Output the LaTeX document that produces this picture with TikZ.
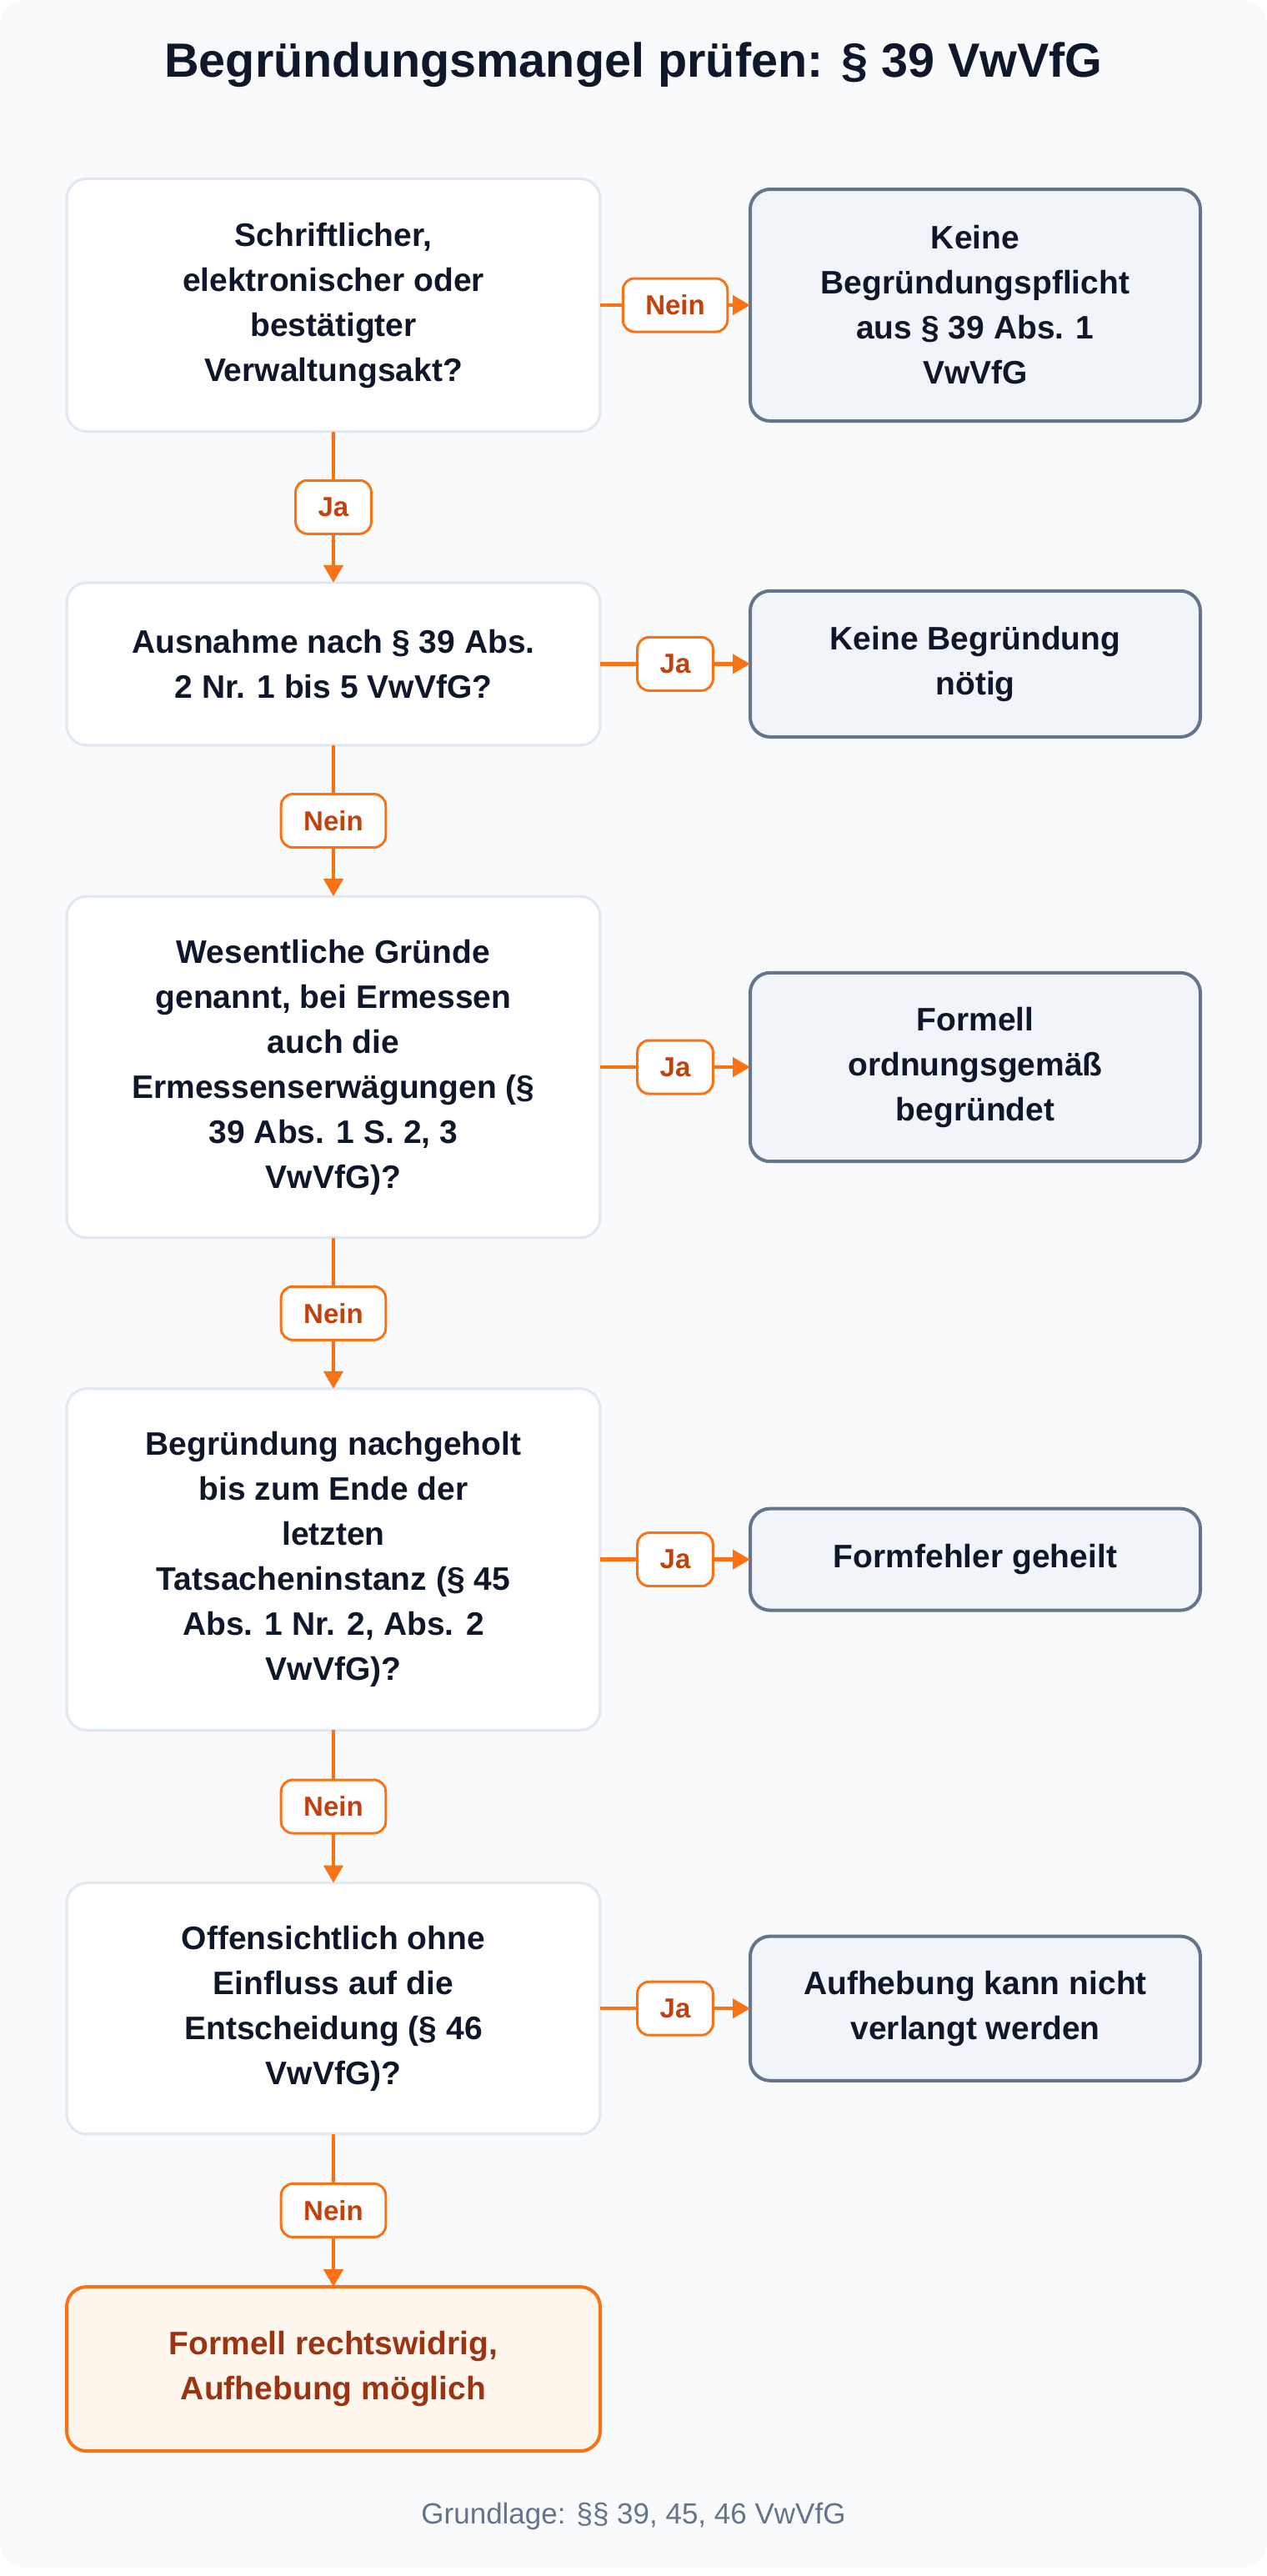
\documentclass[tikz,border=0pt]{standalone}
\usepackage{fontspec}
\setmainfont{Liberation Sans}
\usetikzlibrary{arrows.meta}

\definecolor{panel}{HTML}{F8FAFC}
\definecolor{ink}{HTML}{0F172A}
\definecolor{rand}{HTML}{E2E8F0}
\definecolor{schiefer}{HTML}{64748B}
\definecolor{schieferhell}{HTML}{F1F5F9}
\definecolor{orangeton}{HTML}{F97316}
\definecolor{rost}{HTML}{C2410C}
\definecolor{braunrot}{HTML}{9A3412}
\definecolor{creme}{HTML}{FFF7ED}

\newcommand{\titelschrift}{\fontsize{28.8}{32}\selectfont\bfseries}
\newcommand{\kastenschrift}{\fontsize{19.5}{27}\selectfont\bfseries}
\newcommand{\etikettschrift}{\fontsize{16.5}{20}\selectfont\bfseries}
\newcommand{\fussschrift}{\fontsize{17.5}{20}\selectfont}

\tikzset{
  frage/.style={draw=rand, line width=1.6pt, fill=white, rounded corners=12pt,
    minimum width=320pt, align=center, text=ink, font=\kastenschrift, outer sep=0pt},
  folge/.style={draw=schiefer, line width=2pt, fill=schieferhell, rounded corners=12pt,
    minimum width=270pt, align=center, text=ink, font=\kastenschrift, outer sep=0pt},
  ergebnis/.style={draw=orangeton, line width=2pt, fill=creme, rounded corners=12pt,
    minimum width=320pt, align=center, text=braunrot, font=\kastenschrift, outer sep=0pt},
  pfeil/.style={draw=orangeton, line width=2.2pt, -{Triangle[length=10.5pt,width=11.5pt]}},
  antwort/.style={draw=orangeton, line width=1.5pt, fill=white, rounded corners=7pt,
    minimum height=32pt, inner xsep=13.5pt, inner ysep=0pt, text=rost, font=\etikettschrift}
}

\begin{document}
\begin{tikzpicture}[x=1pt,y=-1pt]
    %background
    \useasboundingbox (0,0) rectangle (760,1545);
    \fill[white] (0,0) rectangle (760,1545);
    \fill[panel, rounded corners=14pt] (0,0) rectangle (760,1540);

    \node[font=\titelschrift, text=ink, anchor=base] (titel) at (380,46) {Begründungsmangel prüfen: § 39 VwVfG};

    %questions
    \node[frage, minimum height=151.6pt] (q1) at (200,183) {Schriftlicher,\\elektronischer oder\\bestätigter\\Verwaltungsakt?};
    \node[frage, minimum height=97.5pt] (q2) at (200,398.2) {Ausnahme nach § 39 Abs.\\2 Nr. 1 bis 5 VwVfG?};
    \node[frage, minimum height=204.8pt] (q3) at (200,640) {Wesentliche Gründe\\genannt, bei Ermessen\\auch die\\Ermessenserwägungen (§\\39 Abs. 1 S. 2, 3\\VwVfG)?};
    \node[frage, minimum height=204.8pt] (q4) at (200,935.3) {Begründung nachgeholt\\bis zum Ende der\\letzten\\Tatsacheninstanz (§ 45\\Abs. 1 Nr. 2, Abs. 2\\VwVfG)?};
    \node[frage, minimum height=150.6pt] (q5) at (200,1204.6) {Offensichtlich ohne\\Einfluss auf die\\Entscheidung (§ 46\\VwVfG)?};
    \node[ergebnis, minimum height=98.5pt] (ende) at (200,1420.8) {Formell rechtswidrig,\\Aufhebung möglich};

    %outcomes
    \node[folge, minimum height=139pt] (r1) at (585,183) {Keine\\Begründungspflicht\\aus § 39 Abs. 1\\VwVfG};
    \node[folge, minimum height=87.6pt] (r2) at (585,398.2) {Keine Begründung\\nötig};
    \node[folge, minimum height=113.2pt] (r3) at (585,640) {Formell\\ordnungsgemäß\\begründet};
    \node[folge, minimum height=61pt] (r4) at (585,935.3) {Formfehler geheilt};
    \node[folge, minimum height=86.6pt] (r5) at (585,1204.6) {Aufhebung kann nicht\\verlangt werden};

    %arrows
    \draw[pfeil] (q1.south) -- node[antwort]{Ja} (q2.north);
    \draw[pfeil] (q2.south) -- node[antwort]{Nein} (q3.north);
    \draw[pfeil] (q3.south) -- node[antwort]{Nein} (q4.north);
    \draw[pfeil] (q4.south) -- node[antwort]{Nein} (q5.north);
    \draw[pfeil] (q5.south) -- node[antwort]{Nein} (ende.north);
    \draw[pfeil] (q1.east) -- node[antwort]{Nein} (r1.west);
    \draw[pfeil] (q2.east) -- node[antwort]{Ja} (r2.west);
    \draw[pfeil] (q3.east) -- node[antwort]{Ja} (r3.west);
    \draw[pfeil] (q4.east) -- node[antwort]{Ja} (r4.west);
    \draw[pfeil] (q5.east) -- node[antwort]{Ja} (r5.west);

    \node[font=\fussschrift, text=schiefer, anchor=base] (fuss) at (380,1513.5) {Grundlage: §§ 39, 45, 46 VwVfG};
\end{tikzpicture}
\end{document}
